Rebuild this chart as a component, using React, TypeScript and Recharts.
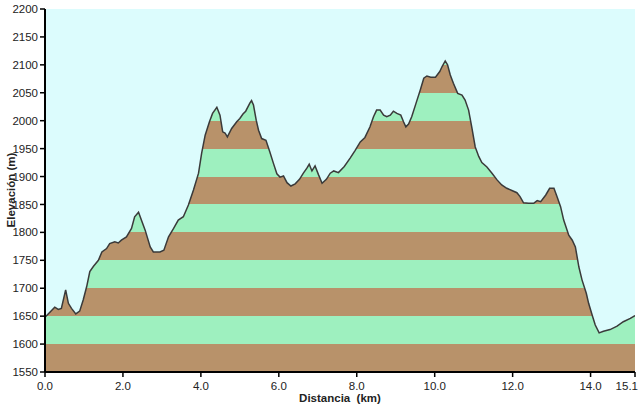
import React from 'react';
import {
  Area,
  AreaChart,
  CartesianGrid,
  XAxis,
  YAxis,
} from 'recharts';

// distance (km) and elevation (m)
const distance = [
  0, 0.25, 0.34, 0.42, 0.53, 0.6, 0.68, 0.79, 0.89, 0.98, 1.07, 1.15, 1.24, 1.37, 1.46,
  1.58, 1.66, 1.79, 1.88, 1.96, 2.09, 2.22, 2.3, 2.4, 2.57, 2.7, 2.78, 2.95, 3.05, 3.17,
  3.3, 3.42, 3.55, 3.68, 3.81, 3.94, 4.02, 4.11, 4.22, 4.3, 4.41, 4.49, 4.56, 4.62, 4.68,
  4.79, 4.92, 5.0, 5.08, 5.15, 5.26, 5.3, 5.35, 5.42, 5.48, 5.56, 5.67, 5.77, 5.86, 5.95,
  6.03, 6.12, 6.21, 6.31, 6.42, 6.53, 6.63, 6.72, 6.78, 6.85, 6.93, 7.02, 7.11, 7.22, 7.32,
  7.41, 7.53, 7.68, 7.83, 7.96, 8.09, 8.21, 8.34, 8.43, 8.51, 8.6, 8.69, 8.77, 8.86, 8.94,
  9.03, 9.13, 9.2, 9.26, 9.33, 9.41, 9.52, 9.63, 9.72, 9.8, 9.9, 10.02, 10.13, 10.19, 10.27,
  10.33, 10.4, 10.48, 10.59, 10.7, 10.78, 10.87, 10.95, 11.04, 11.13, 11.21, 11.34, 11.47,
  11.6, 11.72, 11.85, 11.98, 12.11, 12.19, 12.28, 12.41, 12.54, 12.63, 12.72, 12.85, 12.95,
  13.06, 13.14, 13.23, 13.31, 13.44, 13.53, 13.61, 13.7, 13.78, 13.89, 13.95, 14.04, 14.12,
  14.22, 14.33, 14.5, 14.68, 14.84, 15.02, 15.14,
];
const elevation = [
  1648, 1666, 1662, 1664, 1697, 1673, 1664, 1654, 1659, 1679, 1703, 1730, 1739, 1750, 1765,
  1771, 1780, 1783, 1781, 1786, 1792, 1807, 1828, 1836, 1804, 1774, 1765, 1765, 1768, 1792,
  1807, 1822, 1828, 1849, 1876, 1906, 1942, 1974, 1998, 2013, 2024, 2010, 1980, 1978, 1971,
  1986, 1998, 2004, 2012, 2017, 2032, 2036, 2028, 2001, 1983, 1968, 1965, 1944, 1924, 1905,
  1899, 1901, 1889, 1883, 1887, 1895, 1906, 1915, 1922, 1910, 1919, 1903, 1888, 1895, 1906,
  1910, 1907, 1918, 1933, 1947, 1962, 1970, 1989, 2007, 2019, 2019, 2010, 2007, 2010, 2017,
  2013, 2010, 1998, 1989, 1994, 2007, 2031, 2055, 2076, 2080, 2078, 2078, 2088, 2097, 2107,
  2100, 2082, 2067, 2049, 2046, 2037, 2019, 1989, 1953, 1936, 1925, 1917, 1906,
  1894, 1885, 1879, 1875, 1871, 1864, 1853, 1852, 1852, 1857, 1855, 1867, 1879,
  1879, 1864, 1846, 1822, 1795, 1786, 1774, 1738, 1715, 1691, 1673, 1652, 1634,
  1620, 1623, 1626, 1632, 1640, 1646, 1651,
];

const yTicks = [1550, 1600, 1650, 1700, 1750, 1800, 1850, 1900, 1950, 2000, 2050, 2100, 2150, 2200];
const xTicks = [0, 2, 4, 6, 8, 10, 12, 14, 15.14];
const bandColors = ['#b8926a', '#9ef0bf'];

const data = distance.map((d, i) => ({ d, e: elevation[i] }));

const FONT = '"Liberation Sans", Arial, sans-serif';
const Y_MIN = 1550;
const Y_MAX = 2200;
const X_MAX = 15.14;

// hard-stop gradient over the area's bounding box (top = highest point, bottom = 1550)
function bandStops() {
  const top = Math.max(...elevation);
  const span = top - Y_MIN;
  const stops: { offset: number; color: string }[] = [];
  for (let i = yTicks.length - 2; i >= 0; i--) {
    const lo = yTicks[i];
    const hi = yTicks[i + 1];
    if (lo >= top) continue;
    const color = bandColors[i % 2];
    stops.push({ offset: (top - Math.min(hi, top)) / span, color });
    stops.push({ offset: (top - lo) / span, color });
  }
  return stops;
}

function XTick(props: any) {
  const { x, y, payload, index } = props;
  const last = index === xTicks.length - 1;
  return (
    <text
      x={last ? x + 3 : x}
      y={y + 11}
      textAnchor={last ? 'end' : 'middle'}
      fontSize={11.5}
      fontFamily={FONT}
      fill="#222"
    >
      {Number(payload.value).toFixed(1)}
    </text>
  );
}

export default function App() {
  const stops = bandStops();
  return (
    <div style={{ position: 'absolute', left: 0, top: 0, width: 640, height: 408, background: '#fff' }}>
      <AreaChart
        width={640}
        height={408}
        data={data}
        margin={{ top: 9, right: 5, bottom: 6, left: 5 }}
      >
        <defs>
          <linearGradient id="bands" x1="0" y1="0" x2="0" y2="1">
            {stops.map((s, i) => (
              <stop key={i} offset={s.offset} stopColor={s.color} />
            ))}
          </linearGradient>
        </defs>
        <CartesianGrid horizontal={false} vertical={false} fill="#dcfcfd" />
        <XAxis
          type="number"
          dataKey="d"
          domain={[0, X_MAX]}
          ticks={xTicks}
          height={30}
          allowDataOverflow
          axisLine={{ stroke: '#000', strokeWidth: 2 }}
          tickLine={{ stroke: '#000', strokeWidth: 1.5 }}
          tickSize={5}
          tick={<XTick />}
          interval={0}
        />
        <XAxis
          xAxisId="top"
          orientation="top"
          type="number"
          dataKey="d"
          domain={[0, X_MAX]}
          height={0}
          tick={false}
          tickLine={false}
          axisLine={{ stroke: '#222', strokeWidth: 1.5 }}
        />
        <YAxis
          type="number"
          domain={[Y_MIN, Y_MAX]}
          ticks={yTicks}
          width={40}
          allowDataOverflow
          interval={0}
          axisLine={{ stroke: '#000', strokeWidth: 2 }}
          tickLine={{ stroke: '#000', strokeWidth: 1.5 }}
          tickSize={5}
          tickMargin={2}
          tick={{ fontSize: 11.5, fontFamily: FONT, fill: '#222' }}
        />
        <YAxis
          yAxisId="right"
          orientation="right"
          type="number"
          domain={[Y_MIN, Y_MAX]}
          width={0}
          tick={false}
          tickLine={false}
          axisLine={{ stroke: '#555', strokeWidth: 1 }}
        />
        <Area
          type="linear"
          dataKey="e"
          stroke="#3a3a3a"
          strokeWidth={1.5}
          fill="url(#bands)"
          fillOpacity={1}
          isAnimationActive={false}
          dot={false}
          activeDot={false}
        />
        <text
          x={12}
          y={190}
          transform="rotate(-90 12 190)"
          textAnchor="middle"
          dominantBaseline="middle"
          fontSize={11.5}
          fontWeight="bold"
          fontFamily={FONT}
          fill="#222"
        >
          Elevación (m)
        </text>
        <text
          x={340}
          y={402}
          textAnchor="middle"
          fontSize={11.5}
          fontWeight="bold"
          fontFamily={FONT}
          fill="#222"
          style={{ whiteSpace: 'pre' }}
        >
          {'Distancia  (km)'}
        </text>
      </AreaChart>
    </div>
  );
}
